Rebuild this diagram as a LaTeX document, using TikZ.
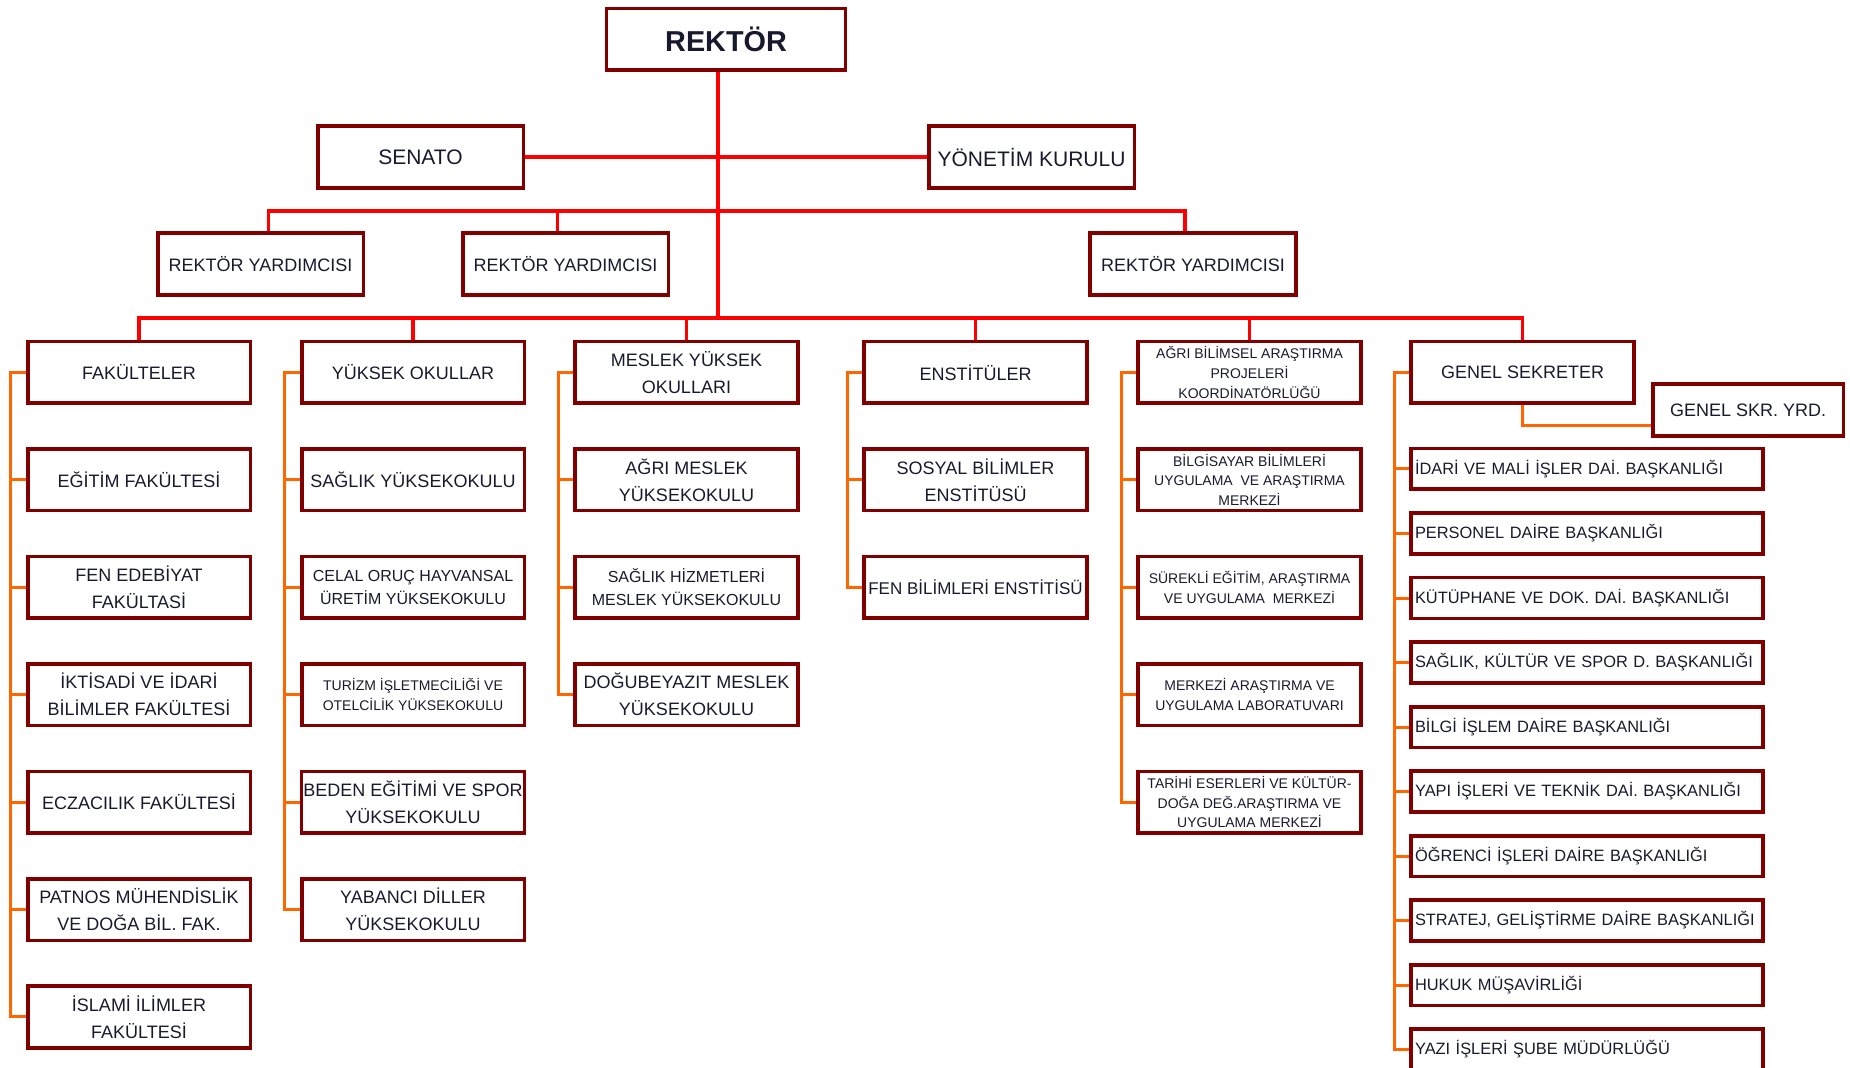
\documentclass[tikz,border=0pt]{standalone}
\usepackage{fontspec}
\setmainfont{Liberation Sans}
\usetikzlibrary{positioning}
\definecolor{boxred}{RGB}{128,0,0}
\definecolor{lineorange}{RGB}{255,102,0}
\definecolor{ink}{RGB}{25,25,45}

\tikzset{
  box/.style={draw=boxred, line width=1.8pt, rectangle, minimum width=111.3pt, minimum height=30.8pt, inner sep=1pt, align=center, text=ink, font=\fontsize{9}{13.5}\selectfont},
  topbox/.style={box, minimum width=102.8pt, font=\fontsize{10.5}{13}\selectfont},
  rybox/.style={box, minimum width=102.8pt},
  smalltext/.style={font=\fontsize{8}{11.5}\selectfont},
  tinytext/.style={font=\fontsize{7}{9.8}\selectfont},
  deptbox/.style={box, minimum width=0pt, minimum height=20.3pt, text width=172pt, align=left, inner xsep=2pt, inner ysep=1pt, font=\fontsize{8.2}{10}\selectfont},
  rline/.style={draw=red, line width=1.6pt},
  oline/.style={draw=lineorange, line width=1.5pt},
}

\begin{document}
\begin{tikzpicture}[x=0.5pt, y=-0.5pt, node distance=21.1pt]
      \useasboundingbox (0,0) rectangle (1850,1068);

      % top levels
      \node [box, minimum width=119.5pt, font=\bfseries\fontsize{14.4}{16}\selectfont] (rektor) at (726,39.5) {REKTÖR};
      \node [topbox] (senato) at (420.5,157) {SENATO};
      \node [topbox] (yonetim) at (1031.5,157) {YÖNETİM KURULU};
      \node [rybox] (ry1) at (260.5,264) {REKTÖR YARDIMCISI};
      \node [rybox] (ry2) at (565.5,264) {REKTÖR YARDIMCISI};
      \node [rybox] (ry3) at (1193,264) {REKTÖR YARDIMCISI};

      % fakulteler
      \node [box] (fak) at (139,372.5) {FAKÜLTELER};
      \node [box, below=of fak] (egitim) {EĞİTİM FAKÜLTESİ};
      \node [box, below=of egitim] (fen) {FEN EDEBİYAT\\FAKÜLTASİ};
      \node [box, below=of fen] (iktisat) {İKTİSADİ VE İDARİ\\BİLİMLER FAKÜLTESİ};
      \node [box, below=of iktisat] (eczacilik) {ECZACILIK FAKÜLTESİ};
      \node [box, below=of eczacilik] (patnos) {PATNOS MÜHENDİSLİK\\VE DOĞA BİL. FAK.};
      \node [box, below=of patnos] (islami) {İSLAMİ İLİMLER\\FAKÜLTESİ};

      % yuksekokullar
      \node [box] (yo) at (413,372.5) {YÜKSEK OKULLAR};
      \node [box, below=of yo] (saglik) {SAĞLIK YÜKSEKOKULU};
      \node [box, smalltext, below=of saglik] (celal) {CELAL ORUÇ HAYVANSAL\\ÜRETİM YÜKSEKOKULU};
      \node [box, tinytext, below=of celal] (turizm) {TURİZM İŞLETMECİLİĞİ VE\\OTELCİLİK YÜKSEKOKULU};
      \node [box, below=of turizm] (beden) {BEDEN EĞİTİMİ VE SPOR\\YÜKSEKOKULU};
      \node [box, below=of beden] (yabanci) {YABANCI DİLLER\\YÜKSEKOKULU};

      % meslek yuksekokullari
      \node [box] (myo) at (686.5,372.5) {MESLEK YÜKSEK\\OKULLARI};
      \node [box, below=of myo] (agrimyo) {AĞRI MESLEK\\YÜKSEKOKULU};
      \node [box, smalltext, below=of agrimyo] (shmyo) {SAĞLIK HİZMETLERİ\\MESLEK YÜKSEKOKULU};
      \node [box, below=of shmyo] (dogu) {DOĞUBEYAZIT MESLEK\\YÜKSEKOKULU};

      % enstituler
      \node [box] (enst) at (975.5,372.5) {ENSTİTÜLER};
      \node [box, below=of enst] (sosyal) {SOSYAL BİLİMLER\\ENSTİTÜSÜ};
      \node [box, font=\fontsize{8.5}{12}\selectfont, below=of sosyal] (fenbil) {FEN BİLİMLERİ ENSTİTİSÜ};

      % arastirma merkezleri
      \node [box, tinytext] (bap) at (1249.5,372.5) {AĞRI BİLİMSEL ARAŞTIRMA\\PROJELERİ\\KOORDİNATÖRLÜĞÜ};
      \node [box, tinytext, below=of bap] (bilgisayar) {BİLGİSAYAR BİLİMLERİ\\UYGULAMA\ \ VE ARAŞTIRMA\\MERKEZİ};
      \node [box, tinytext, below=of bilgisayar] (surekli) {SÜREKLİ EĞİTİM, ARAŞTIRMA\\VE UYGULAMA\ \ MERKEZİ};
      \node [box, tinytext, below=of surekli] (lab) {MERKEZİ ARAŞTIRMA VE\\UYGULAMA LABORATUVARI};
      \node [box, tinytext, below=of lab] (tarihi) {TARİHİ ESERLERİ VE KÜLTÜR-\\DOĞA DEĞ.ARAŞTIRMA VE\\UYGULAMA MERKEZİ};

      % genel sekreterlik
      \node [box] (gs) at (1522.5,372.5) {GENEL SEKRETER};
      \node [box, minimum width=95.3pt, minimum height=25.8pt] (gsyrd) at (1748,410) {GENEL SKR. YRD.};
      \node [deptbox] (idari) at (1587,469) {İDARİ VE MALİ İŞLER DAİ. BAŞKANLIĞI};
      \node [deptbox, below=10.15pt of idari] (personel) {PERSONEL DAİRE BAŞKANLIĞI};
      \node [deptbox, below=10.15pt of personel] (kutuphane) {KÜTÜPHANE VE DOK. DAİ. BAŞKANLIĞI};
      \node [deptbox, below=10.15pt of kutuphane] (sks) {SAĞLIK, KÜLTÜR VE SPOR D. BAŞKANLIĞI};
      \node [deptbox, below=10.15pt of sks] (bidb) {BİLGİ İŞLEM DAİRE BAŞKANLIĞI};
      \node [deptbox, below=10.15pt of bidb] (yapi) {YAPI İŞLERİ VE TEKNİK DAİ. BAŞKANLIĞI};
      \node [deptbox, below=10.15pt of yapi] (ogrenci) {ÖĞRENCİ İŞLERİ DAİRE BAŞKANLIĞI};
      \node [deptbox, below=10.15pt of ogrenci] (strateji) {STRATEJ, GELİŞTİRME DAİRE BAŞKANLIĞI};
      \node [deptbox, below=10.15pt of strateji] (hukuk) {HUKUK MÜŞAVİRLİĞİ};
      \node [deptbox, below=10.15pt of hukuk] (yazi) {YAZI İŞLERİ ŞUBE MÜDÜRLÜĞÜ};

      % red lines
      \coordinate (rybus) at (718,211);
      \coordinate (bus) at (718,318);
      \draw [rline] ([xshift=-4pt]rektor.south) -- (bus);
      \draw [rline] (senato) -- (yonetim);
      \draw [rline] (rybus) -| ([xshift=4pt]ry1.north);
      \draw [rline] (rybus) -| ([xshift=-4pt]ry2.north);
      \draw [rline] (rybus) -| ([xshift=-4pt]ry3.north);
      \draw [rline] (bus) -| (fak.north);
      \draw [rline] (bus) -| (yo.north);
      \draw [rline] (bus) -| (myo.north);
      \draw [rline] (bus) -| (enst.north);
      \draw [rline] (bus) -| (bap.north);
      \draw [rline] (bus) -| (gs.north);

      % orange brackets
      \draw [oline] (fak.west) -- ++(-15,0) |- (egitim.west);
      \draw [oline] (fak.west) -- ++(-15,0) |- (fen.west);
      \draw [oline] (fak.west) -- ++(-15,0) |- (iktisat.west);
      \draw [oline] (fak.west) -- ++(-15,0) |- (eczacilik.west);
      \draw [oline] (fak.west) -- ++(-15,0) |- (patnos.west);
      \draw [oline] (fak.west) -- ++(-15,0) |- (islami.west);

      \draw [oline] (yo.west) -- ++(-15,0) |- (saglik.west);
      \draw [oline] (yo.west) -- ++(-15,0) |- (celal.west);
      \draw [oline] (yo.west) -- ++(-15,0) |- (turizm.west);
      \draw [oline] (yo.west) -- ++(-15,0) |- (beden.west);
      \draw [oline] (yo.west) -- ++(-15,0) |- (yabanci.west);

      \draw [oline] (myo.west) -- ++(-15,0) |- (agrimyo.west);
      \draw [oline] (myo.west) -- ++(-15,0) |- (shmyo.west);
      \draw [oline] (myo.west) -- ++(-15,0) |- (dogu.west);

      \draw [oline] (enst.west) -- ++(-15,0) |- (sosyal.west);
      \draw [oline] (enst.west) -- ++(-15,0) |- (fenbil.west);

      \draw [oline] (bap.west) -- ++(-15,0) |- (bilgisayar.west);
      \draw [oline] (bap.west) -- ++(-15,0) |- (surekli.west);
      \draw [oline] (bap.west) -- ++(-15,0) |- (lab.west);
      \draw [oline] (bap.west) -- ++(-15,0) |- (tarihi.west);

      \draw [oline] (gs.south) |- ([yshift=-8pt]gsyrd.west);
      \draw [oline] (gs.west) -- ++(-15,0) |- (idari.west);
      \draw [oline] (gs.west) -- ++(-15,0) |- (personel.west);
      \draw [oline] (gs.west) -- ++(-15,0) |- (kutuphane.west);
      \draw [oline] (gs.west) -- ++(-15,0) |- (sks.west);
      \draw [oline] (gs.west) -- ++(-15,0) |- (bidb.west);
      \draw [oline] (gs.west) -- ++(-15,0) |- (yapi.west);
      \draw [oline] (gs.west) -- ++(-15,0) |- (ogrenci.west);
      \draw [oline] (gs.west) -- ++(-15,0) |- (strateji.west);
      \draw [oline] (gs.west) -- ++(-15,0) |- (hukuk.west);
      \draw [oline] (gs.west) -- ++(-15,0) |- (yazi.west);
    \end{tikzpicture}
\end{document}
